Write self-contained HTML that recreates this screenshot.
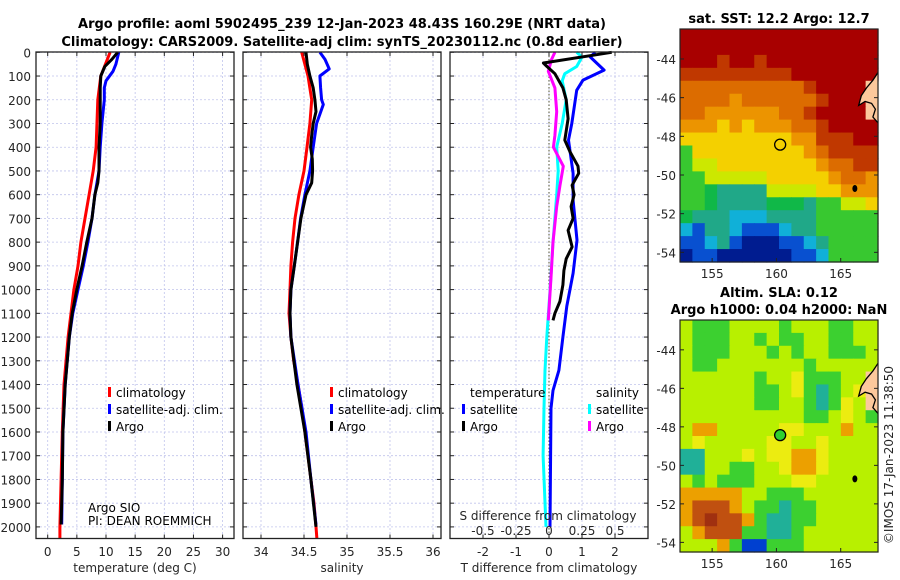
<!DOCTYPE html>
<html><head><meta charset="utf-8">
<style>
html,body{margin:0;padding:0;background:#fff;}
svg{display:block;font-family:"DejaVu Sans","Liberation Sans",sans-serif;}
.tk{font-size:12px;fill:#262626;}
.tt{font-size:13px;font-weight:bold;fill:#000;}
.lg{font-size:12px;fill:#000;}
</style></head>
<body>
<svg id="c" width="900" height="580" viewBox="0 0 900 580" xmlns="http://www.w3.org/2000/svg"></svg>
<script>
// ---- profile data (depth in dbar) ----
const tClimDepth=[0,100,200,400,500,600,700,800,900,1000,1200,1400,1600,1800,2000,2050];
const tClimVal=[10.7,9.1,8.6,8.3,7.8,7.1,6.4,5.7,5.2,4.5,3.5,2.8,2.5,2.3,2.1,2.1];
const tArgoDepth=[0,30,60,100,150,200,300,400,500,550,600,700,800,900,1000,1100,1200,1400,1600,1800,1990];
const tArgoVal=[12.0,11.0,9.8,9.1,9.0,9.0,9.0,8.8,8.8,8.6,8.1,7.6,6.7,5.9,5.0,4.2,3.7,3.0,2.6,2.5,2.3];
const tSatDepth=[0,50,80,120,150,200,300,400,500,600,700,800,900,1000,1100,1200,1400,1600,1800,1990];
const tSatVal=[12.2,11.7,11.2,10.0,9.7,9.7,9.3,9.0,8.8,8.1,7.6,6.9,6.1,5.2,4.3,3.7,3.0,2.6,2.5,2.4];
const sClimDepth=[0,100,200,300,400,500,600,700,800,900,1000,1100,1200,1300,1400,1500,1600,1700,1800,1900,2000,2050];
const sClimVal=[34.473,34.546,34.589,34.569,34.535,34.5,34.441,34.395,34.368,34.348,34.337,34.325,34.348,34.38,34.43,34.476,34.511,34.546,34.58,34.616,34.639,34.65];
const sArgoDepth=[0,50,100,150,200,250,300,350,400,450,500,550,600,700,800,900,1000,1100,1200,1400,1600,1800,2000];
const sArgoVal=[34.523,34.538,34.569,34.607,34.627,34.639,34.607,34.589,34.577,34.596,34.6,34.589,34.523,34.464,34.426,34.387,34.348,34.337,34.348,34.418,34.511,34.58,34.639];
const sSatDepth=[0,30,70,100,150,200,220,300,400,500,600,700,800,900,1000,1100,1200,1400,1600,1800,1990];
const sSatVal=[34.685,34.744,34.793,34.685,34.693,34.705,34.724,34.647,34.607,34.569,34.511,34.46,34.426,34.387,34.348,34.337,34.348,34.43,34.523,34.58,34.639];
// differences from climatology
const dTArgoDepth=[0,45,60,90,150,200,280,370,420,480,510,560,600,650,700,750,820,870,920,980,1050,1100,1130];
const dTArgoVal=[1.9,-0.17,-0.06,0.18,0.42,0.52,0.58,0.48,0.64,0.88,0.9,0.7,0.76,0.67,0.73,0.58,0.7,0.52,0.45,0.42,0.33,0.18,0.12];
const dTSatDepth=[0,20,75,117,160,300,370,510,623,792,931,1070,1200,1340,1425,1500,2000];
const dTSatVal=[1.4,1.25,1.67,1.03,0.84,0.69,0.59,0.73,0.73,0.85,0.73,0.54,0.42,0.3,0.12,0.06,0.03];
const dSSatDepth=[0,20,60,90,120,200,300,400,500,600,700,800,1000,1200,1340,1500,1700,2000];
const dSSatVal=[0.21,0.25,0.21,0.12,0.1,0.13,0.1,0.058,0.07,0.058,0.045,0.03,0.008,-0.017,-0.03,-0.038,-0.045,-0.023];
const dSArgoDepth=[0,30,80,150,250,350,400,480,560,650,800,950,1130];
const dSArgoVal=[0.045,0.02,-0.005,0.045,0.058,0.045,0.033,0.108,0.083,0.058,0.03,0.015,-0.005];
const depthTicks=[0,100,200,300,400,500,600,700,800,900,1000,1100,1200,1300,1400,1500,1600,1700,1800,1900,2000];
const tTicks=[0,5,10,15,20,25,30];
const sTicks=[34,34.5,35,35.5,36];
const sTickLabels=["34","34.5","35","35.5","36"];
const dTTicks=[-2,-1,0,1,2];
const dSTicks=[-0.5,-0.25,0,0.25,0.5];
const dSTickLabels=["-0.5","-0.25","0","0.25","0.5"];
// ---- map data (rows top->bottom, lat -42.45..-54.5; cols lon 152.5..167.9) ----
const sstRows=[
"RRRRRRRRRRRRRRRR","RRRRRRRRRRRRRRRR","RRRrRRrRRRRRRRRR","rrrrrrrrrRRRRRRR",
"OOOOOOOOOOrRRRRL","OOOOoOOOOOOrRRRL","OOooooooOOrRRRRL","oooYoYoooOOrRRRR",
"YYYYYYYYYoorrrRR","GYYYYYYYYYoOrrrr","GyyYYYYYYYYoOOrr","GGyyyyyYYYYYoOOo",
"GGgTTTTyyyyYYooo","GGgTTTTgggTGGyyY","gTTTCCCTTTTGGGGG","CBTTCBBBCTTGGGGG",
"BBCTBDDDBBCTGGGG","DBBDDDDDDBBCGGGG"];
const slaRows=[
"ygggyyyygyyyggyy","ygggyygyggyyggyy","ygggyyygygyygggy","yggyyyyyyygyyyyy",
"yyyyyygyyYgggyyL","yyyyyyggyYgTgyYL","yyyyyyggyygTgYyL","yyyyyyyyyyggyYyg",
"yOOyyyyyYYyyyOyy","yYyyyyyYYyyYyyyy","TTyyyYyYYOOYyyyy","TTyyggyyYOOYyyyy",
"ygygggyyyYYyyyyy","OOOOOyygggyyyyyy","ORRROyggTggyyyyy","ORrRROgTTggyyyyy",
"yORRRggTTgyyyyyy","yyyOgBBgggyyyyyy"];
const latTicks=[-44,-46,-48,-50,-52,-54];
const lonTicks=[155,160,165];
const argoLon=160.29, argoLat=-48.43;

const NS="http://www.w3.org/2000/svg";
const svg=document.getElementById('c');
function el(tag,attrs,parent){const e=document.createElementNS(NS,tag);for(const k in attrs)e.setAttribute(k,attrs[k]);(parent||svg).appendChild(e);return e;}
function txt(x,y,s,cls,anchor,parent){const t=el('text',{x:x,y:y,class:cls,'text-anchor':anchor||'start'},parent);t.textContent=s;return t;}

const Y0=52.3, YK=0.2373;
const yD=d=>Y0+YK*d;
const xT=v=>47.7+5.83*v;
const xS=v=>261+86*(v-34);
const xDT=v=>549+33*v;
const xDS=v=>549+132*v;
const PW=198, PT=52, PB=538.5;

let t=txt(342,28,"Argo profile: aoml 5902495_239 12-Jan-2023 48.43S 160.29E (NRT data)","tt","middle");

t=txt(342,46,"Climatology: CARS2009. Satellite-adj clim: synTS_20230112.nc (0.8d earlier)","tt","middle");


function grid(g,px,xs){
  for(const d of depthTicks){el('line',{x1:px,x2:px+PW,y1:yD(d),y2:yD(d),stroke:'#c0c4ec','stroke-width':0.8,'stroke-dasharray':'2,2'},g);}
  for(const x of xs){el('line',{x1:x,x2:x,y1:PT,y2:PB,stroke:'#c0c4ec','stroke-width':0.8,'stroke-dasharray':'2,2'},g);}
}
function frame(g,px,xs){
  el('rect',{x:px,y:PT,width:PW,height:PB-PT,fill:'none',stroke:'#222','stroke-width':1.3},g);
  for(const d of depthTicks){const y=yD(d);el('line',{x1:px,x2:px+4,y1:y,y2:y,stroke:'#222'},g);el('line',{x1:px+PW-4,x2:px+PW,y1:y,y2:y,stroke:'#222'},g);}
  for(const x of xs){el('line',{x1:x,x2:x,y1:PB-4,y2:PB,stroke:'#222'},g);el('line',{x1:x,x2:x,y1:PT,y2:PT+4,stroke:'#222'},g);}
}
function line(g,ds,vs,fx,color,name,w){
  const pts=ds.map((d,i)=>fx(vs[i]).toFixed(1)+','+yD(d).toFixed(1)).join(' ');
  const p=el('polyline',{points:pts,fill:'none',stroke:color,'stroke-width':w||3,'stroke-linejoin':'round'},g);
  
  
}
function legend(g,x,y,color,label,name){
  el('rect',{x:x,y:y-10,width:3,height:10,fill:color},g);
  const tt=txt(x+8,y,label,'lg','start',g);
  
  
}

// panel 1
let g=el('g',{});
const tx=tTicks.map(xT);
grid(g,36,tx);
line(g,tClimDepth,tClimVal,xT,'#ff0000','temperature-climatology-line');
line(g,tSatDepth,tSatVal,xT,'#0000ff','temperature-satellite-line');
line(g,tArgoDepth,tArgoVal,xT,'#000000','temperature-argo-line');
frame(g,36,tx);
tTicks.forEach((v,i)=>txt(tx[i],556,String(v),'tk','middle',g));
depthTicks.forEach(d=>txt(31,yD(d)+5,String(d),'tk','end',g));
t=txt(135,572,"temperature (deg C)",'tk','middle',g);
legend(g,108,397,'#ff0000','climatology','legend-climatology');
legend(g,108,414,'#0000ff','satellite-adj. clim.','legend-satellite-adj');
legend(g,108,431,'#000000','Argo','legend-argo');
t=txt(88,512,"Argo SIO",'lg','start',g);t.setAttribute('font-size','10');
t=txt(88,525,"PI: DEAN ROEMMICH",'lg','start',g);t.setAttribute('font-size','10');

// panel 2
g=el('g',{});
const sx=sTicks.map(xS);
grid(g,243,sx);
line(g,sClimDepth,sClimVal,xS,'#ff0000','salinity-climatology-line');
line(g,sSatDepth,sSatVal,xS,'#0000ff','salinity-satellite-line');
line(g,sArgoDepth,sArgoVal,xS,'#000000','salinity-argo-line');
frame(g,243,sx);
sTickLabels.forEach((s,i)=>txt(sx[i],556,s,'tk','middle',g));
t=txt(342,572,"salinity",'tk','middle',g);
legend(g,330,397,'#ff0000','climatology','legend-climatology-s');
legend(g,330,414,'#0000ff','satellite-adj. clim.','legend-satellite-adj-s');
legend(g,330,431,'#000000','Argo','legend-argo-s');

// panel 3
g=el('g',{});
const dx=dTTicks.map(xDT);
grid(g,450,dx);
el('line',{x1:549,x2:549,y1:PT,y2:PB,stroke:'#505030','stroke-width':1,'stroke-dasharray':'1.5,2'},g);
line(g,dTSatDepth,dTSatVal,xDT,'#0000ff','t-diff-satellite-line');
line(g,dSSatDepth,dSSatVal,xDS,'#00ffff','s-diff-satellite-line');
line(g,dSArgoDepth,dSArgoVal,xDS,'#ff00ff','s-diff-argo-line');
line(g,dTArgoDepth,dTArgoVal,xDT,'#000000','t-diff-argo-line');
frame(g,450,dx);
dTTicks.forEach((v,i)=>txt(dx[i],556,String(v),'tk','middle',g));
t=txt(549,572,"T difference from climatology",'tk','middle',g);
t=txt(548,520,"S difference from climatology",'tk','middle',g);
dSTicks.forEach((v,i)=>txt(xDS(v),535,dSTickLabels[i],'tk','middle',g));
t=txt(470,397,"temperature",'lg','start',g);
legend(g,462,414,'#0000ff','satellite','legend-t-satellite');
legend(g,462,431,'#000000','Argo','legend-t-argo');
t=txt(596,397,"salinity",'lg','start',g);
legend(g,588,414,'#00ffff','satellite','legend-s-satellite');
legend(g,588,431,'#ff00ff','Argo','legend-s-argo');

// maps
const sstCol={R:'#a80000',r:'#c03800',O:'#dc6c00',o:'#ec9400',Y:'#f4d000',y:'#cce800',G:'#38c830',g:'#10b848',T:'#20a888',C:'#10b0d8',B:'#0850d0',D:'#001c90',L:'#fcc89c'};
const slaCol={y:'#b8f000',Y:'#ecec10',g:'#3cd030',T:'#20b098',O:'#eca000',R:'#c05010',r:'#a03010',B:'#0040d0',L:'#fcc89c'};
const MX0=680,MX1=878,LON0=152.5,LON1=167.9,LAT0=-42.45,LAT1=-54.5;
function drawMap(y0,y1,rows,cols,name,markerFill){
  const mg=el('g',{});
  const px=lon=>MX0+(lon-LON0)/(LON1-LON0)*(MX1-MX0);
  const py=lat=>y0+(lat-LAT0)/(LAT1-LAT0)*(y1-y0);
  const nr=rows.length,nc=rows[0].length,cw=(MX1-MX0)/nc,ch=(y1-y0)/nr;
  rows.forEach((row,r)=>{for(let c=0;c<nc;c++){el('rect',{x:MX0+c*cw,y:y0+r*ch,width:cw+0.6,height:ch+0.6,fill:cols[row[c]]},mg);}});
  const coast=[[167.9,-44.7],[167.5,-45.1],[167.0,-45.5],[166.6,-45.9],[166.4,-46.4],[166.9,-46.2],[167.4,-46.3],[167.7,-46.6],[167.5,-47.0],[167.9,-47.3]];
  const cp=coast.map(p=>px(p[0]).toFixed(1)+','+py(p[1]).toFixed(1)).join(' ');
  el('polygon',{points:cp+' '+MX1+','+py(-47.3)+' '+MX1+','+py(-44.7),fill:cols.L},mg);
  el('polyline',{points:cp,fill:'none',stroke:'#000','stroke-width':1.3},mg);
  el('ellipse',{cx:px(166.1),cy:py(-50.7),rx:2.5,ry:3.5,fill:'#000'},mg);
  const m=el('circle',{cx:px(argoLon),cy:py(argoLat),r:5.5,fill:markerFill,stroke:'#000','stroke-width':1.3},mg);
  
  el('rect',{x:MX0,y:y0,width:MX1-MX0,height:y1-y0,fill:'none',stroke:'#222','stroke-width':1.2},mg);
  latTicks.forEach(l=>{const y=py(l);el('line',{x1:MX0,x2:MX0+4,y1:y,y2:y,stroke:'#222'},mg);el('line',{x1:MX1-4,x2:MX1,y1:y,y2:y,stroke:'#222'},mg);txt(676,y+5,String(l),'tk','end',mg);});
  lonTicks.forEach(l=>{const x=px(l);el('line',{x1:x,x2:x,y1:y1-4,y2:y1,stroke:'#222'},mg);txt(x,y1+16,String(l),'tk','middle',mg);});
}
drawMap(29,262,sstRows,sstCol,'sst-map','none');
drawMap(320,552,slaRows,slaCol,'sla-map','#30d030');
t=txt(779,23,"sat. SST: 12.2 Argo: 12.7","tt","middle");
t=txt(779,297,"Altim. SLA: 0.12","tt","middle");
t=txt(779,314,"Argo h1000: 0.04 h2000: NaN","tt","middle");
t=txt(0,0,"©IMOS 17-Jan-2023 11:38:50","tk","middle");t.setAttribute('transform','translate(893,455) rotate(-90)');

</script>
</body></html>
